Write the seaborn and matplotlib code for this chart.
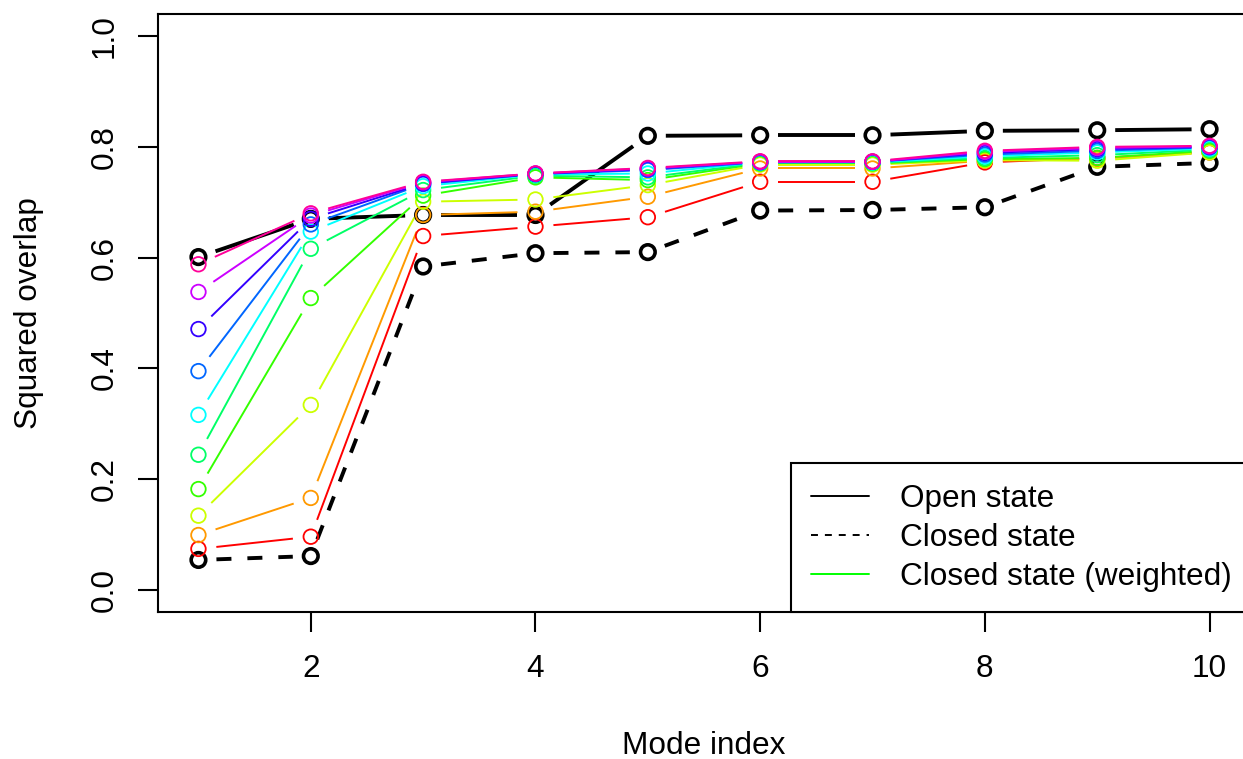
import numpy as np
import pandas as pd
import matplotlib
matplotlib.use("Agg")
import matplotlib.pyplot as plt
import seaborn as sns
from matplotlib.lines import Line2D

# --------------
# Data
# --------------
modes = [1, 2, 3, 4, 5, 6, 7, 8, 9, 10]

open_state = [0.601, 0.670, 0.677, 0.677, 0.820, 0.821, 0.821, 0.829, 0.830, 0.832]
closed_state = [0.054, 0.061, 0.584, 0.608, 0.610, 0.685, 0.686, 0.691, 0.764, 0.771]

# closed state, weighted - one curve per weighting (red -> pink)
weighted_1 = [0.074, 0.096, 0.639, 0.656, 0.673, 0.737, 0.737, 0.772, 0.780, 0.790]
weighted_2 = [0.099, 0.166, 0.677, 0.683, 0.710, 0.761, 0.761, 0.775, 0.778, 0.792]
weighted_3 = [0.134, 0.334, 0.701, 0.705, 0.731, 0.768, 0.768, 0.776, 0.775, 0.790]
weighted_4 = [0.182, 0.527, 0.712, 0.745, 0.740, 0.770, 0.770, 0.778, 0.780, 0.793]
weighted_5 = [0.244, 0.616, 0.722, 0.748, 0.745, 0.771, 0.771, 0.780, 0.785, 0.795]
weighted_6 = [0.316, 0.647, 0.729, 0.750, 0.752, 0.772, 0.772, 0.783, 0.790, 0.797]
weighted_7 = [0.395, 0.660, 0.733, 0.751, 0.758, 0.772, 0.773, 0.786, 0.793, 0.799]
weighted_8 = [0.471, 0.670, 0.734, 0.751, 0.760, 0.773, 0.773, 0.789, 0.796, 0.800]
weighted_9 = [0.538, 0.676, 0.736, 0.752, 0.761, 0.773, 0.773, 0.791, 0.798, 0.801]
weighted_10 = [0.588, 0.680, 0.737, 0.752, 0.762, 0.774, 0.774, 0.793, 0.800, 0.802]

weighted = [weighted_1, weighted_2, weighted_3, weighted_4, weighted_5,
            weighted_6, weighted_7, weighted_8, weighted_9, weighted_10]

# R rainbow(10)
rainbow = ["#FF0000", "#FF9900", "#CCFF00", "#33FF00", "#00FF66",
           "#00FFFF", "#0066FF", "#3300FF", "#CC00FF", "#FF0099"]

legend_labels = ["Open state", "Closed state", "Closed state (weighted)"]

# --------------
# Style
# --------------
sns.set_theme(style="white")
plt.rcParams["font.family"] = ["Liberation Sans", "DejaVu Sans"]
plt.rcParams["lines.scale_dashes"] = False
plt.rcParams["text.color"] = "black"
plt.rcParams["axes.labelcolor"] = "black"
plt.rcParams["xtick.color"] = "black"
plt.rcParams["ytick.color"] = "black"

FS = 22.7

W, H = 1243, 759
fig = plt.figure(figsize=(W / 100, H / 100), dpi=100)
ax = fig.add_axes([158 / W, 147 / H, 1092 / W, 598 / H])
ax.set_xlim(0.64, 10.36)
ax.set_ylim(-0.04, 1.04)

GAP = 18  # pixels left free around each point (R type="b")


def gapped_line(xs, ys, color, lw, dashes=None):
    # draw the connecting segments shortened at both ends, like R's type="b"
    pts = ax.transData.transform(np.column_stack([xs, ys]))
    inv = ax.transData.inverted()
    for p0, p1 in zip(pts[:-1], pts[1:]):
        d = p1 - p0
        dist = np.hypot(*d)
        if dist <= 2 * GAP:
            continue
        u = d / dist
        a = inv.transform(p0 + GAP * u)
        b = inv.transform(p1 - GAP * u)
        kw = dict(color=color, lw=lw, solid_capstyle="butt", dash_capstyle="butt")
        if dashes is not None:
            kw["dashes"] = dashes
        ax.plot([a[0], b[0]], [a[1], b[1]], **kw)


def circles(xs, ys, color, lw):
    sns.scatterplot(x=xs, y=ys, ax=ax, marker="o", s=110, color=color,
                    facecolor="none", edgecolor=color, linewidth=lw,
                    legend=False, zorder=3)


# black curves first, rainbow on top
gapped_line(modes, open_state, "black", 2.8)
circles(modes, open_state, "black", 2.6)
gapped_line(modes, closed_state, "black", 2.8, dashes=(10.8, 11.5))
circles(modes, closed_state, "black", 2.6)

for vals, col in zip(weighted, rainbow):
    gapped_line(modes, vals, col, 1.4)
    circles(modes, vals, col, 1.3)

# --------------
# Axes
# --------------
for sp in ax.spines.values():
    sp.set_visible(True)
    sp.set_color("black")
    sp.set_linewidth(1.5)

ax.set_xticks([2, 4, 6, 8, 10])
ax.set_yticks([0.0, 0.2, 0.4, 0.6, 0.8, 1.0])
ax.set_yticklabels(["0.0", "0.2", "0.4", "0.6", "0.8", "1.0"])
ax.tick_params(axis="both", direction="out", length=14.4, width=1.5,
               color="black", labelcolor="black", labelsize=FS,
               bottom=True, left=True)
ax.tick_params(axis="x", pad=16.0)
ax.tick_params(axis="y", pad=13.5)
for lab in ax.get_yticklabels():
    lab.set_rotation(90)
    lab.set_va("center")

ax.set_xlabel("Mode index", fontsize=FS, color="black")
ax.set_ylabel("Squared overlap", fontsize=FS, color="black")
ax.xaxis.set_label_coords(0.5, -(746 - 612) / 598)
ax.xaxis.label.set_va("center")
ax.yaxis.set_label_coords(-(158 - 29) / 1092, 0.5)
ax.yaxis.label.set_va("center")

handles = [
    Line2D([], [], color="black", lw=1.4),
    Line2D([], [], color="black", lw=1.4, dashes=(5, 5)),
    Line2D([], [], color="#00FF00", lw=1.4),
]
leg = ax.legend(handles, legend_labels, loc="lower left",
                bbox_to_anchor=((791 - 158) / 1092, 0.0), borderaxespad=0,
                fontsize=FS, frameon=True, fancybox=False, edgecolor="black",
                framealpha=1, handlelength=1.84, handletextpad=0.98,
                labelspacing=0.29, borderpad=0.64)
leg.get_frame().set_linewidth(1.5)
for t in leg.get_texts():
    t.set_color("black")

fig.savefig("out.png", dpi=100)
